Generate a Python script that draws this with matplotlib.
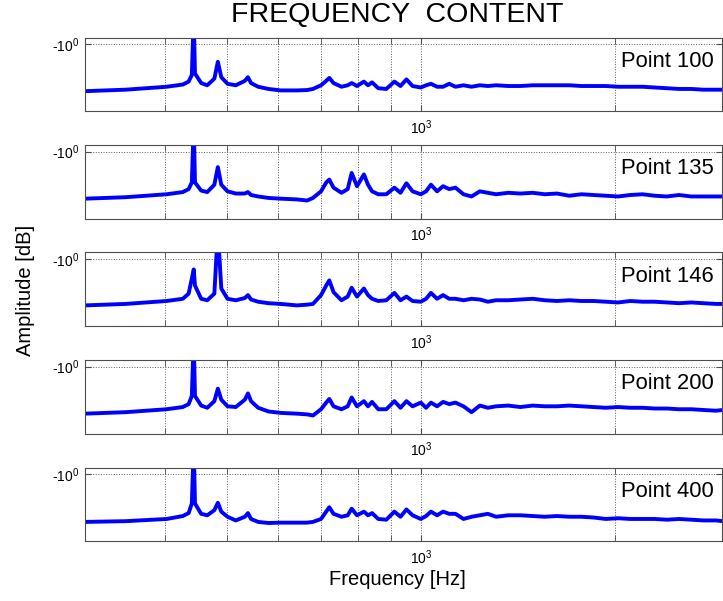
import matplotlib
matplotlib.use('Agg')
import matplotlib.pyplot as plt
from matplotlib.ticker import FixedLocator, FixedFormatter, NullFormatter

plt.rcParams['font.family'] = ['Liberation Sans', 'DejaVu Sans']
plt.rcParams['mathtext.fontset'] = 'custom'
plt.rcParams['mathtext.rm'] = 'Liberation Sans'
plt.rcParams['mathtext.it'] = 'Liberation Sans:italic'

# frequency grid (Hz)
freq = [301, 348, 403, 427, 436, 441, 444, 446, 456, 466, 478, 484, 490, 501, 516, 533,
        539, 545, 559, 580, 606, 642, 666, 680, 700, 713, 721, 732, 753, 770, 781, 796,
        816, 828, 840, 859, 884, 910, 930, 950, 971, 1000, 1019, 1037, 1060, 1083, 1107,
        1132, 1165, 1199, 1235, 1271, 1309, 1367, 1428, 1492, 1558, 1627, 1701, 1776,
        1855, 1938, 2025, 2115, 2210, 2308, 2411, 2518, 2631, 2748, 2871, 2947]

# amplitudes in percent of panel height (values above 100 are clipped peaks)
amp_100 = [27, 29, 33, 36, 40, 49, 130, 51, 38, 35, 44, 67, 46, 37, 35, 41,
           46, 38, 33, 30, 28, 28, 28.5, 30, 35, 41, 45, 38, 33, 35, 38, 34,
           40, 35, 39, 31, 30, 40, 34, 43, 34, 32, 35, 37, 33, 33, 37,
           33, 35, 33, 35, 34, 35, 34, 34, 35, 35, 35, 35, 34,
           34, 34, 33, 33, 33, 32, 31, 30, 30, 29, 29, 29]
amp_135 = [27, 29, 33, 36, 40, 49, 130, 49, 38, 36, 46, 70, 46, 37, 34, 34,
           36, 32, 30, 28, 27, 26, 24.5, 28, 37, 49, 53, 42, 35, 40, 62, 44,
           60, 46, 37, 33, 33, 42, 35, 48, 37, 33, 37, 46, 37, 44, 40,
           42, 33, 30, 37, 35, 33, 35, 34, 35, 33, 34, 31, 33,
           32, 31, 30, 32, 33, 31, 30, 32, 30, 30, 30, 30]
amp_146 = [28, 30, 34, 37, 44, 64.5, 77, 55, 37, 35, 44, 130, 51, 37, 35, 38,
           42, 36, 33, 31, 30, 28, 29, 30, 42, 55, 62, 46, 35, 40, 52, 40,
           51, 42, 37, 34, 35, 45, 35, 40, 34, 33, 37, 45, 37, 42, 37,
           37, 35, 37, 36, 33, 35, 35, 36, 37, 35, 34, 35, 34,
           34, 33, 32, 34, 33, 33, 32, 31, 32, 31, 30, 30]
amp_200 = [27, 29, 33, 36, 40, 51, 130, 51, 38, 35, 44, 61, 46, 37, 36, 46,
           54.5, 44, 35, 30, 28, 27, 26, 24.5, 33, 42, 47, 37, 33, 37, 49, 37,
           44, 37, 43, 33, 33, 44, 35, 44, 37, 42, 35, 42, 37, 43, 40,
           42, 37, 29, 38, 35, 37, 38, 36, 38, 37, 37, 38, 37,
           36, 35, 36, 35, 35, 34, 34, 33, 33, 32, 31, 32]
amp_400 = [26, 27, 30, 34, 38, 51, 130, 51, 37, 35, 42, 52, 40, 33, 28, 33,
           38, 30, 26, 24.5, 25, 25, 25, 26, 30, 40, 46, 37, 33, 35, 44, 35,
           40, 35, 38, 30, 29, 40, 33, 43, 35, 30, 34, 40, 35, 40, 37,
           37, 30, 33, 35, 37, 33, 35, 35, 34, 33, 34, 33, 33,
           32, 30, 31, 30, 30, 30, 29, 30, 29, 28, 28, 27]

points = ['Point 100', 'Point 135', 'Point 146', 'Point 200', 'Point 400']
amps = [amp_100, amp_135, amp_146, amp_200, amp_400]

fig = plt.figure(figsize=(7.23, 6.01), dpi=100)
bottoms = [0.8153, 0.6364, 0.4576, 0.2787, 0.0998]

for name, amp, b in zip(points, amps, bottoms):
    ax = fig.add_axes([0.1176, b, 0.881, 0.1223])
    ax.plot(freq, amp, color='#0000ff', lw=2.8, solid_joinstyle='round')
    ax.set_xscale('log')
    ax.set_xlim(301, 2936)
    ax.set_ylim(0, 100)
    ax.xaxis.set_major_locator(FixedLocator([1000]))
    ax.xaxis.set_major_formatter(FixedFormatter([r'$10^{3}$']))
    ax.xaxis.set_minor_locator(FixedLocator([400, 500, 600, 700, 800, 900, 2000]))
    ax.xaxis.set_minor_formatter(NullFormatter())
    ax.yaxis.set_major_locator(FixedLocator([91]))
    ax.yaxis.set_major_formatter(FixedFormatter([r'-$10^{0}$']))
    ax.grid(True, which='both', ls=':', color='0.35', lw=0.7)
    ax.tick_params(which='both', direction='in', top=True, right=True,
                   labelsize=10, length=4, color='0.3')
    ax.tick_params(axis='x', pad=5)
    ax.tick_params(axis='y', pad=4)
    for sp in ax.spines.values():
        sp.set_color('0.3')
    ax.text(0.987, 0.68, name, transform=ax.transAxes, ha='right', va='center',
            fontsize=15.8)

fig.text(0.549, 0.975, 'FREQUENCY  CONTENT', ha='center', va='center', fontsize=20.5)
fig.text(0.55, 0.035, 'Frequency [Hz]', ha='center', va='center', fontsize=14.5)
fig.text(0.035, 0.517, 'Amplitude [dB]', ha='center', va='center', rotation=90,
         fontsize=14.5)

plt.savefig('out.png', dpi=100)
